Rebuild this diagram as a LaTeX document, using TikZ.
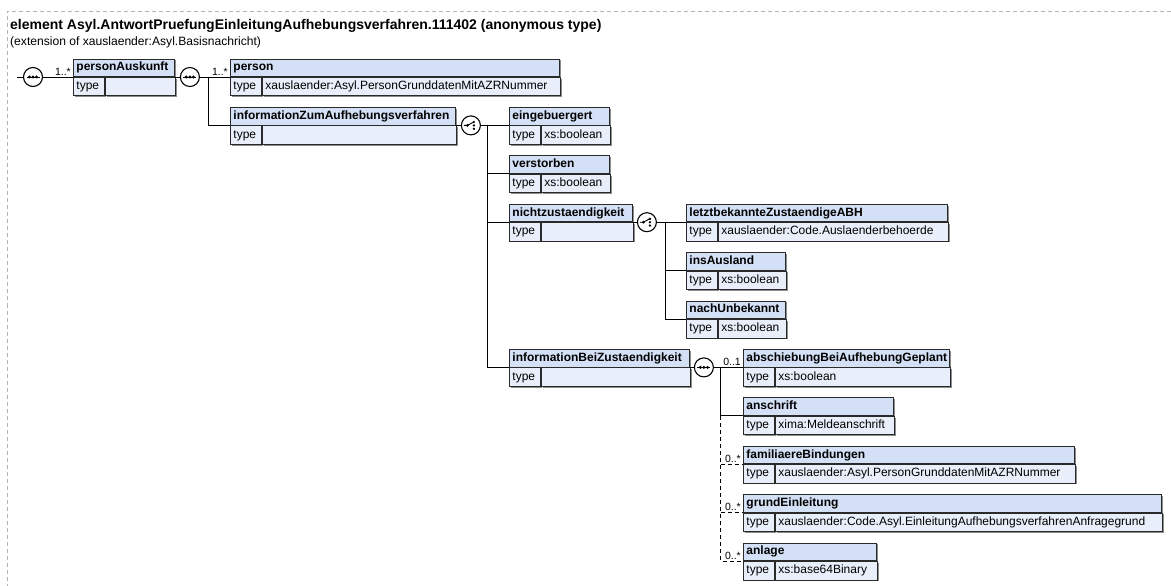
\documentclass[tikz,border=0pt]{standalone}
\usepackage{fontspec}
\setmainfont{Liberation Sans}
\usetikzlibrary{shadows}
\definecolor{hdrfill}{HTML}{D4E0F5}
\definecolor{typefill}{HTML}{E9EFFA}
\definecolor{boxline}{HTML}{2A2A2A}
\definecolor{frameline}{HTML}{B4B4B4}
\definecolor{shade}{HTML}{8C8C8C}

\begin{document}
\begin{tikzpicture}[x=1pt,y=-1pt,
    cell/.style={draw=boxline,line width=0.9pt,inner xsep=3pt,inner ysep=0pt,
      anchor=north west,align=left,text height=9pt,text depth=3pt,
      drop shadow={shadow xshift=1.3pt,shadow yshift=-1.3pt,fill=shade,opacity=1}},
    hdr/.style={cell,fill=hdrfill,minimum height=17.5pt,font=\fontsize{12}{14}\selectfont\bfseries},
    typ/.style={cell,fill=typefill,minimum height=18.5pt,font=\fontsize{12}{14}\selectfont},
    occ/.style={anchor=south east,inner sep=0pt,font=\fontsize{10.5}{12}\selectfont},
    wire/.style={draw=black,line width=0.9pt},
    optwire/.style={wire,dash pattern=on 4pt off 3pt},
    comp/.style={circle,draw=black,fill=white,line width=1.1pt,minimum size=19pt,inner sep=0pt},
    glyph/.style={line width=0.9pt}]
  \useasboundingbox (0,0) rectangle (1171,586);
  \draw[frameline,line width=0.8pt,dash pattern=on 4pt off 3pt] (1171,11.5) -- (7,11.5) -- (7,586);

  \node[anchor=base west,inner sep=0pt,font=\fontsize{14}{16}\selectfont\bfseries] (title) at (10,29.5)
    {element Asyl.AntwortPruefungEinleitungAufhebungsverfahren.111402 (anonymous type)};
  \node[anchor=base west,inner sep=0pt,font=\fontsize{12.1}{14}\selectfont] (subtitle) at (10,45.5)
    {(extension of xauslaender:Asyl.Basisnachricht)};

  % element boxes: name / left x / row / width / label / type
  \foreach \id/\x/\k/\w/\lab/\val in {%
      pa/73/0/101/personAuskunft/{},
      pe/230/0/329/person/{xauslaender:Asyl.PersonGrunddatenMitAZRNummer},
      iz/230/1/225/informationZumAufhebungsverfahren/{},
      eg/509/1/100/eingebuergert/{xs:boolean},
      vs/509/2/100/verstorben/{xs:boolean},
      nz/509/3/123/nichtzustaendigkeit/{},
      lz/686/3/261/letztbekannteZustaendigeABH/{xauslaender:Code.Auslaenderbehoerde},
      ia/686/4/99/insAusland/{xs:boolean},
      nu/686/5/99/nachUnbekannt/{xs:boolean},
      ib/509/6/180/informationBeiZustaendigkeit/{},
      ab/743/6/206/abschiebungBeiAufhebungGeplant/{xs:boolean},
      an/743/7/150/anschrift/{xima:Meldeanschrift},
      fb/743/8/331/familiaereBindungen/{xauslaender:Asyl.PersonGrunddatenMitAZRNummer},
      ge/743/9/418/grundEinleitung/{xauslaender:Code.Asyl.EinleitungAufhebungsverfahrenAnfragegrund},
      al/743/10/133/anlage/{xs:base64Binary}}{
    \pgfmathsetmacro\hw{\w-6}
    \pgfmathsetmacro\vw{\w-37}
    \node[hdr,text width=\hw pt] (\id) at (\x,58.6+48.4*\k) {\mbox{\lab}};
    \node[typ,text width=25pt] (\id-t) at (\id.south west) {type};
    \node[typ,text width=\vw pt] (\id-v) at (\id-t.north east) {\mbox{\val}};}

  % compositors and junctions
  \coordinate (in) at ([xshift=-56pt]pa.south west);
  \node[comp] (sq1) at ([xshift=-40pt]pa.south west) {};
  \node[comp] (sq2) at ([xshift=15pt]pa.south east) {};
  \coordinate (j1) at ([xshift=34pt]pa.south east);
  \node[comp] (ch1) at ([xshift=15pt]iz.south east) {};
  \coordinate (j2) at ([xshift=32pt]iz.south east);
  \node[comp] (ch2) at ([xshift=14pt]nz.south east) {};
  \coordinate (j3) at ([xshift=33pt]nz.south east);
  \node[comp] (sq3) at ([xshift=14pt]ib.south east) {};
  \coordinate (j4) at ([xshift=31pt]ib.south east);
  \coordinate (j5) at (j4 |- an.south west);

  % sequence marks
  \foreach \s in {sq1,sq2,sq3}{
    \draw[glyph] ([xshift=-6.5pt]\s.center) -- ([xshift=6.5pt]\s.center);
    \foreach \d in {-3.6,0,3.6}
      \fill ([xshift=\d pt]\s.center) circle (1.6pt);}
  % choice marks
  \foreach \s in {ch1,ch2}{
    \draw[glyph] ([xshift=-7pt]\s.center) -- ([xshift=-3.5pt]\s.center)
      -- ([xshift=2.8pt,yshift=3.4pt]\s.center);
    \fill ([xshift=-3.5pt]\s.center) circle (1.5pt);
    \foreach \d in {-3.4,0,3.4}
      \fill ([xshift=3pt,yshift=\d pt]\s.center) circle (1.3pt);}

  \draw[wire] (in) -- (sq1);
  \draw[wire] (sq1) -- (pa.south west);
  \draw[wire] (pa.south east) -- (sq2);
  \draw[wire] (sq2) -- (pe.south west);
  \draw[wire] (j1) |- (iz.south west);
  \draw[wire] (iz.south east) -- (ch1);
  \draw[wire] (ch1) -- (eg.south west);
  \draw[wire] (j2) |- (vs.south west);
  \draw[wire] (j2) |- (nz.south west);
  \draw[wire] (j2) |- (ib.south west);
  \draw[wire] (nz.south east) -- (ch2);
  \draw[wire] (ch2) -- (lz.south west);
  \draw[wire] (j3) |- (ia.south west);
  \draw[wire] (j3) |- (nu.south west);
  \draw[wire] (ib.south east) -- (sq3);
  \draw[wire] (sq3) -- (ab.south west);
  \draw[wire] (j4) |- (an.south west);
  \draw[optwire] (j5) |- (al.south west);
  \draw[optwire] (j5 |- fb.south west) -- (fb.south west);
  \draw[optwire] (j5 |- ge.south west) -- (ge.south west);

  % occurrences
  \node[occ] (o1) at ([xshift=-2pt,yshift=1.5pt]pa.south west) {1..*};
  \node[occ] (o2) at ([xshift=-2pt,yshift=1.5pt]pe.south west) {1..*};
  \node[occ] (o3) at ([xshift=-2pt,yshift=1.5pt]ab.south west) {0..1};
  \node[occ] (o4) at ([xshift=-2pt,yshift=1.5pt]fb.south west) {0..*};
  \node[occ] (o5) at ([xshift=-2pt,yshift=1.5pt]ge.south west) {0..*};
  \node[occ] (o6) at ([xshift=-2pt,yshift=1.5pt]al.south west) {0..*};
\end{tikzpicture}
\end{document}
